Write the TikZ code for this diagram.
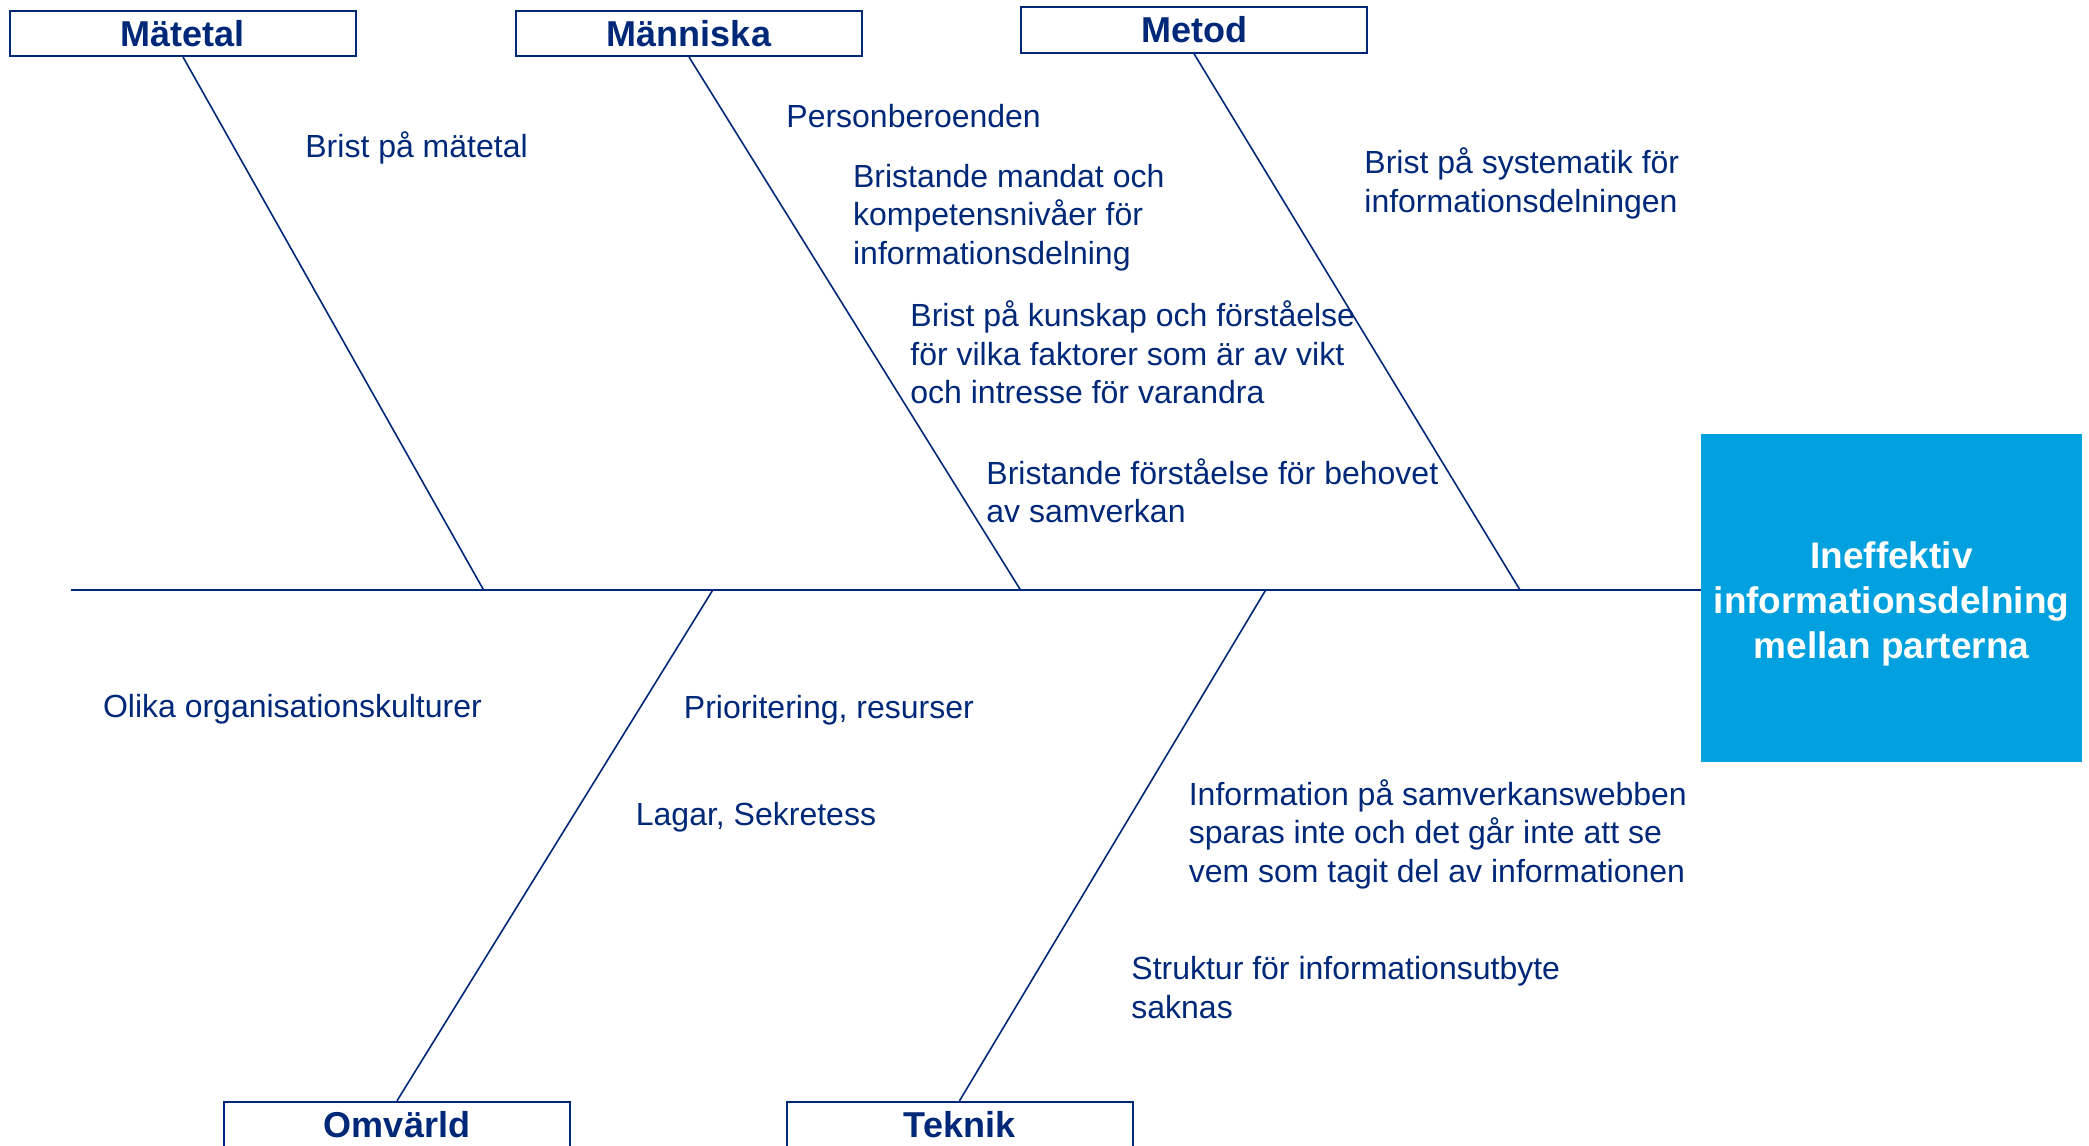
\documentclass[tikz,border=0pt]{standalone}
\usepackage{fontspec}
\setmainfont{Liberation Sans}
\usetikzlibrary{positioning}
\definecolor{navy}{RGB}{0,40,120}
\definecolor{effblue}{RGB}{0,161,222}

\begin{document}
\begin{tikzpicture}[x=0.5pt,y=-0.5pt,
  catbox/.style={draw=navy,line width=1pt,minimum width=173pt,minimum height=22.7pt,inner sep=0pt,
    font=\fontsize{18}{21}\selectfont\bfseries,text=navy},
  cause/.style={anchor=base west,align=left,inner sep=0pt,font=\fontsize{16}{19.3}\selectfont,text=navy},
  bone/.style={draw=navy,line width=0.8pt}]
\useasboundingbox (0,0) rectangle (2089,1146);
% effect
\node[fill=effblue,minimum width=190.5pt,minimum height=164pt] (eff) at (1891.5,598) {};
\node[text=white,align=center,font=\fontsize{18.5}{22.5}\selectfont\bfseries] (efftext) at (1891.5,604)
  {Ineffektiv\\informationsdelning\\mellan parterna};
% spine
\coordinate (tail) at (70.6,590);
\draw[bone] (tail) -- (tail -| eff.west);
% categories
\node[catbox] (matetal) at (183,33.3) {Mätetal};
\node[catbox] (manniska) at (689,33.3) {Människa};
\node[catbox] (metod) at (1194,30) {Metod};
\node[catbox] (omvarld) at (397,1124.5) {Omvärld};
\node[catbox] (teknik) at (959.5,1124.5) {Teknik};
% bones
\foreach \c/\x in {matetal/483.6,manniska/1020.5,metod/1520}{
  \coordinate (j-\c) at (\x,590);
  \draw[bone] (\c.south) -- (j-\c);
}
\foreach \c/\x in {omvarld/712.8,teknik/1265.7}{
  \coordinate (j-\c) at (\x,590);
  \draw[bone] (\c.north) -- (j-\c);
}
% causes (base = last line)
\node[cause] (c1) at (305,157.5) {Brist på mätetal};
\node[cause] (c2) at (786,127) {Personberoenden};
\node[cause] (c3) at (852.7,264.2) {Bristande mandat och\\kompetensnivåer för\\informationsdelning};
\node[cause] (c4) at (910,403.9) {Brist på kunskap och förståelse\\för vilka faktorer som är av vikt\\och intresse för varandra};
\node[cause] (c5) at (986,522.6) {Bristande förståelse för behovet\\av samverkan};
\node[cause] (c6) at (1364,212.1) {Brist på systematik för\\informationsdelningen};
\node[cause] (c7) at (102.6,717) {Olika organisationskulturer};
\node[cause] (c8) at (683.5,718.5) {Prioritering, resurser};
\node[cause] (c9) at (635.5,825) {Lagar, Sekretess};
\node[cause] (c10) at (1188.4,882.2) {Information på samverkanswebben\\sparas inte och det går inte att se\\vem som tagit del av informationen};
\node[cause] (c11) at (1131,1018.2) {Struktur för informationsutbyte\\saknas};
\end{tikzpicture}
\end{document}
